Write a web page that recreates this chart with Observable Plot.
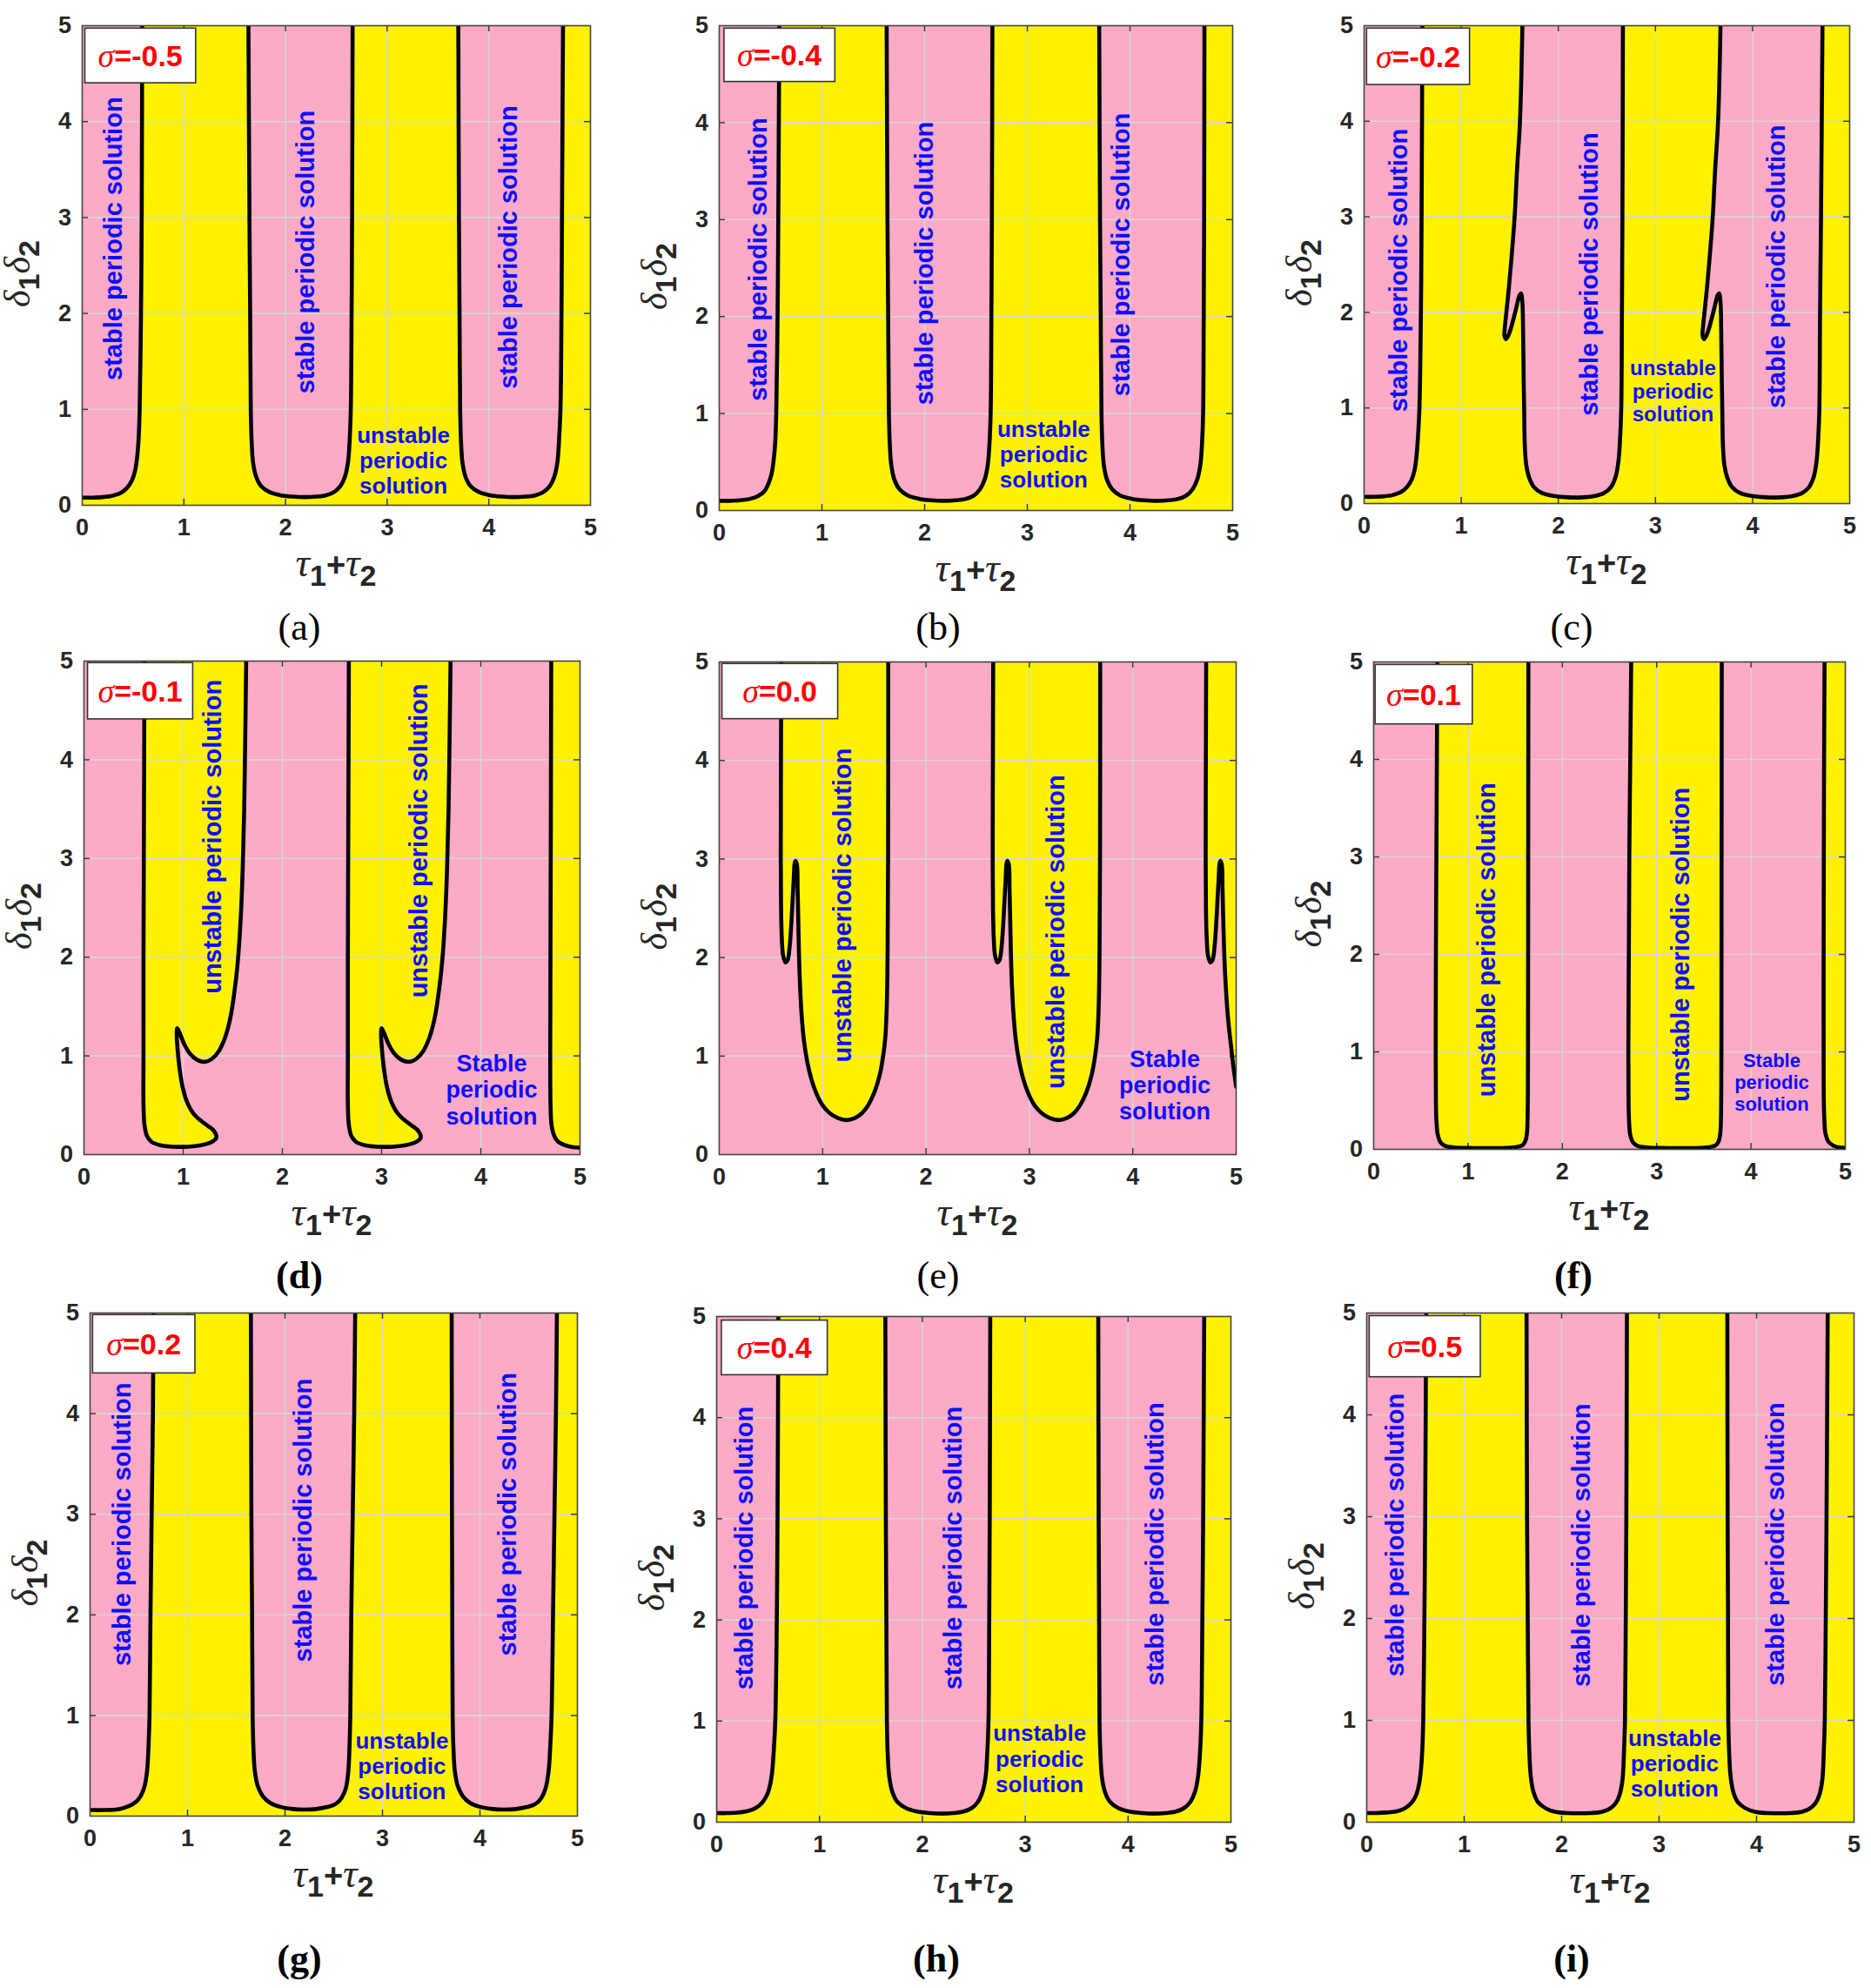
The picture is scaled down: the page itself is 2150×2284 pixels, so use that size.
<!DOCTYPE html>
<html><head><meta charset="utf-8">
<script src="https://cdn.jsdelivr.net/npm/d3@7"></script>
<script src="https://cdn.jsdelivr.net/npm/@observablehq/plot@0.6"></script>
<style>
html,body{margin:0;padding:0;background:#fff;}
body{width:2150px;height:2284px;position:relative;overflow:hidden;font-family:"Liberation Sans",Arial,sans-serif;}
.panel{position:absolute;}
.panel svg{max-width:none;background:transparent;overflow:visible;}
.cap{position:absolute;font-family:"Liberation Serif","Times New Roman",serif;font-size:44px;color:#000;transform:translate(-50%,-50%);white-space:nowrap;}
</style></head>
<body>
<script>
// ---------- data ----------
const xDomain = [0, 5];
const yDomain = [0, 5];
const tickValues = [0, 1, 2, 3, 4, 5];
const gridValues = [1, 2, 3, 4];
const sigmaValues = ["-0.5", "-0.4", "-0.2", "-0.1", "0.0", "0.1", "0.2", "0.4", "0.5"];
const panelLetters = ["(a)", "(b)", "(c)", "(d)", "(e)", "(f)", "(g)", "(h)", "(i)"];
const letterBold = [false, false, false, true, false, true, true, true, true];
// which state fills the background (the rest are the enclosed regions)
const backgroundState = ["unstable", "unstable", "unstable", "stable", "stable", "stable", "unstable", "unstable", "unstable"];

// boundary curves (tau1+tau2, delta1*delta2)
const aLeft = [[0,0.08],[0.1,0.08],[0.2,0.085],[0.3,0.1],[0.38,0.13],[0.44,0.18],[0.49,0.26],[0.52,0.36],[0.54,0.5],[0.555,0.7],[0.565,1],[0.578,2],[0.585,3],[0.59,5]];
const aMid = [[1.635,5],[1.645,3],[1.652,2],[1.658,1],[1.665,0.7],[1.68,0.45],[1.71,0.3],[1.76,0.2],[1.84,0.14],[1.95,0.105],[2.07,0.09],[2.19,0.085],[2.3,0.09],[2.4,0.105],[2.48,0.14],[2.54,0.2],[2.585,0.3],[2.615,0.45],[2.632,0.7],[2.642,1],[2.65,2],[2.655,3],[2.66,5]];
const aRight = [[3.70,5],[3.706,3],[3.712,2],[3.718,1],[3.725,0.7],[3.74,0.45],[3.77,0.3],[3.82,0.2],[3.90,0.14],[4.01,0.105],[4.13,0.09],[4.25,0.085],[4.36,0.09],[4.46,0.105],[4.54,0.14],[4.6,0.2],[4.645,0.3],[4.675,0.45],[4.692,0.7],[4.705,1],[4.715,2],[4.72,3],[4.73,5]];

const bLeft = [[0,0.1],[0.1,0.1],[0.2,0.105],[0.3,0.12],[0.38,0.15],[0.44,0.2],[0.48,0.28],[0.51,0.38],[0.53,0.52],[0.545,0.7],[0.555,1],[0.568,2],[0.575,3],[0.585,5]];
const bMid = [[1.63,5],[1.638,3],[1.645,2],[1.652,1],[1.66,0.7],[1.675,0.47],[1.705,0.32],[1.755,0.22],[1.835,0.155],[1.95,0.12],[2.07,0.105],[2.19,0.1],[2.3,0.105],[2.4,0.12],[2.48,0.155],[2.54,0.22],[2.585,0.32],[2.615,0.47],[2.632,0.7],[2.643,1],[2.65,2],[2.655,3],[2.66,5]];
const bRight = [[3.70,5],[3.708,3],[3.715,2],[3.722,1],[3.73,0.7],[3.745,0.47],[3.775,0.32],[3.825,0.22],[3.905,0.155],[4.02,0.12],[4.14,0.105],[4.26,0.1],[4.37,0.105],[4.47,0.12],[4.55,0.155],[4.61,0.22],[4.655,0.32],[4.685,0.47],[4.702,0.7],[4.712,1],[4.718,2],[4.722,3],[4.725,5]];

const cLeft = [[0,0.07],[0.1,0.07],[0.2,0.075],[0.3,0.09],[0.38,0.12],[0.44,0.17],[0.49,0.25],[0.52,0.35],[0.54,0.5],[0.555,0.7],[0.57,1],[0.585,2],[0.592,3],[0.6,5]];
const cMid = [[1.63,5],[1.605,4],[1.575,3.5],[1.55,3],[1.52,2.6],[1.49,2.25],[1.465,2.0],[1.45,1.85],[1.445,1.76],[1.46,1.72],[1.49,1.77],[1.53,1.9],[1.57,2.06],[1.6,2.18],[1.615,2.2],[1.63,2.1],[1.637,1.8],[1.643,1.3],[1.648,1],[1.655,0.6],[1.67,0.4],[1.7,0.27],[1.75,0.17],[1.83,0.11],[1.95,0.08],[2.1,0.065],[2.25,0.065],[2.38,0.08],[2.47,0.11],[2.54,0.17],[2.59,0.28],[2.62,0.45],[2.637,0.7],[2.648,1],[2.655,2],[2.66,3],[2.665,5]];
const cRight = [[3.67,5],[3.645,4],[3.615,3.5],[3.59,3],[3.56,2.6],[3.53,2.25],[3.505,2.0],[3.49,1.85],[3.485,1.76],[3.5,1.72],[3.53,1.77],[3.57,1.9],[3.61,2.06],[3.64,2.18],[3.655,2.2],[3.67,2.1],[3.677,1.8],[3.683,1.3],[3.688,1],[3.695,0.6],[3.71,0.4],[3.74,0.27],[3.79,0.17],[3.87,0.11],[3.99,0.08],[4.14,0.065],[4.29,0.065],[4.42,0.08],[4.51,0.11],[4.58,0.17],[4.63,0.28],[4.66,0.45],[4.677,0.7],[4.688,1],[4.695,2],[4.705,3],[4.72,5]];

const dLeft = [[0.61,5],[0.605,3.5],[0.6,2],[0.6,1],[0.6,0.5],[0.61,0.3],[0.635,0.19],[0.68,0.13],[0.77,0.095],[0.9,0.08],[1.05,0.08],[1.18,0.095],[1.27,0.12],[1.32,0.15],[1.335,0.18],[1.31,0.24],[1.25,0.29],[1.17,0.35],[1.1,0.42],[1.04,0.53],[0.995,0.68],[0.965,0.86],[0.945,1.05],[0.935,1.2],[0.94,1.28],[0.965,1.23],[1.01,1.12],[1.07,1.02],[1.14,0.96],[1.22,0.94],[1.29,0.97],[1.36,1.05],[1.42,1.18],[1.47,1.36],[1.51,1.6],[1.55,1.95],[1.58,2.4],[1.6,2.9],[1.615,3.5],[1.625,4.2],[1.635,5]];
const dMid = [[2.67,5],[2.665,3.5],[2.66,2],[2.66,1],[2.66,0.5],[2.67,0.3],[2.695,0.19],[2.74,0.13],[2.83,0.095],[2.96,0.08],[3.11,0.08],[3.24,0.095],[3.33,0.12],[3.38,0.15],[3.395,0.18],[3.37,0.24],[3.31,0.29],[3.23,0.35],[3.16,0.42],[3.1,0.53],[3.055,0.68],[3.025,0.86],[3.005,1.05],[2.995,1.2],[3.0,1.28],[3.025,1.23],[3.07,1.12],[3.13,1.02],[3.2,0.96],[3.28,0.94],[3.35,0.97],[3.42,1.05],[3.48,1.18],[3.53,1.36],[3.57,1.6],[3.61,1.95],[3.64,2.4],[3.66,2.9],[3.675,3.5],[3.685,4.2],[3.695,5]];
const dRight = [[4.71,5],[4.705,3],[4.70,1],[4.703,0.5],[4.713,0.3],[4.74,0.19],[4.78,0.13],[4.85,0.095],[4.93,0.075],[5,0.07]];

const eLeft = [[0.6,5],[0.597,4],[0.595,3],[0.598,2.5],[0.605,2.2],[0.618,2.02],[0.64,1.95],[0.66,1.97],[0.68,2.1],[0.7,2.4],[0.718,2.75],[0.735,2.98],[0.75,2.95],[0.758,2.7],[0.765,2.35],[0.772,2.0],[0.782,1.7],[0.798,1.4],[0.82,1.15],[0.85,0.95],[0.89,0.77],[0.94,0.62],[1.0,0.5],[1.07,0.42],[1.15,0.37],[1.23,0.35],[1.31,0.37],[1.38,0.42],[1.44,0.5],[1.5,0.63],[1.55,0.8],[1.585,1.0],[1.607,1.2],[1.62,1.5],[1.628,2.0],[1.633,3],[1.635,5]];
const eMid = [[2.65,5],[2.647,4],[2.645,3],[2.648,2.5],[2.655,2.2],[2.668,2.02],[2.69,1.95],[2.71,1.97],[2.73,2.1],[2.75,2.4],[2.768,2.75],[2.785,2.98],[2.8,2.95],[2.808,2.7],[2.815,2.35],[2.822,2.0],[2.832,1.7],[2.848,1.4],[2.87,1.15],[2.9,0.95],[2.94,0.77],[2.99,0.62],[3.05,0.5],[3.12,0.42],[3.2,0.37],[3.28,0.35],[3.36,0.37],[3.43,0.42],[3.49,0.5],[3.55,0.63],[3.6,0.8],[3.635,1.0],[3.657,1.2],[3.67,1.5],[3.678,2.0],[3.683,3],[3.685,5]];
const eRight = [[4.71,5],[4.707,4],[4.705,3],[4.708,2.5],[4.715,2.2],[4.728,2.02],[4.75,1.95],[4.77,1.97],[4.79,2.1],[4.81,2.4],[4.828,2.75],[4.845,2.98],[4.86,2.95],[4.868,2.7],[4.876,2.35],[4.886,2.0],[4.9,1.7],[4.92,1.4],[4.945,1.15],[4.97,0.92],[5.0,0.69]];

const fLeft = [[0.675,5],[0.67,4],[0.665,3],[0.66,2],[0.658,1],[0.66,0.5],[0.665,0.3],[0.68,0.15],[0.71,0.07],[0.76,0.035],[0.85,0.02],[1.0,0.015],[1.2,0.012],[1.4,0.015],[1.52,0.025],[1.58,0.045],[1.61,0.09],[1.625,0.17],[1.632,0.35],[1.636,1],[1.638,3],[1.64,5]];
const fMid = [[2.73,5],[2.72,4],[2.71,3],[2.705,2],[2.7,1],[2.702,0.5],[2.707,0.3],[2.72,0.15],[2.75,0.07],[2.8,0.035],[2.9,0.02],[3.05,0.015],[3.25,0.012],[3.45,0.015],[3.57,0.025],[3.63,0.045],[3.66,0.09],[3.675,0.17],[3.682,0.35],[3.686,1],[3.688,3],[3.69,5]];
const fRight = [[4.78,5],[4.775,4],[4.772,3],[4.77,2],[4.77,1],[4.772,0.5],[4.778,0.3],[4.79,0.16],[4.82,0.08],[4.87,0.04],[4.93,0.02],[5,0.015]];

const gLeft = [[0,0.06],[0.15,0.06],[0.3,0.07],[0.4,0.1],[0.47,0.14],[0.52,0.2],[0.56,0.3],[0.585,0.45],[0.6,0.7],[0.61,1],[0.62,2],[0.632,3],[0.645,4],[0.65,5]];
const gMid = [[1.65,5],[1.655,3],[1.662,2],[1.668,1],[1.675,0.7],[1.69,0.45],[1.72,0.3],[1.77,0.2],[1.85,0.13],[1.96,0.09],[2.08,0.07],[2.2,0.065],[2.32,0.07],[2.43,0.09],[2.52,0.12],[2.58,0.18],[2.625,0.28],[2.65,0.45],[2.662,0.7],[2.67,1],[2.68,2],[2.695,3],[2.71,4],[2.72,5]];
const gRight = [[3.71,5],[3.713,3],[3.716,2],[3.72,1],[3.727,0.7],[3.742,0.45],[3.772,0.3],[3.822,0.2],[3.9,0.13],[4.01,0.09],[4.13,0.07],[4.25,0.065],[4.37,0.07],[4.48,0.09],[4.57,0.12],[4.63,0.18],[4.675,0.28],[4.705,0.45],[4.722,0.7],[4.735,1],[4.75,2],[4.765,3],[4.78,4],[4.79,5]];

const hLeft = [[0,0.09],[0.1,0.09],[0.2,0.095],[0.3,0.11],[0.38,0.14],[0.44,0.19],[0.49,0.27],[0.52,0.37],[0.54,0.5],[0.555,0.7],[0.57,1],[0.585,2],[0.592,3],[0.6,5]];
const hMid = [[1.64,5],[1.645,3],[1.65,2],[1.655,1],[1.662,0.7],[1.678,0.45],[1.708,0.3],[1.758,0.2],[1.84,0.14],[1.95,0.105],[2.07,0.09],[2.19,0.085],[2.3,0.09],[2.4,0.105],[2.48,0.14],[2.54,0.2],[2.585,0.3],[2.615,0.45],[2.632,0.7],[2.643,1],[2.65,2],[2.655,3],[2.66,5]];
const hRight = [[3.71,5],[3.714,3],[3.718,2],[3.722,1],[3.73,0.7],[3.745,0.45],[3.775,0.3],[3.825,0.2],[3.905,0.14],[4.015,0.105],[4.135,0.09],[4.255,0.085],[4.365,0.09],[4.465,0.105],[4.545,0.14],[4.605,0.2],[4.65,0.3],[4.68,0.45],[4.7,0.7],[4.712,1],[4.722,2],[4.73,3],[4.74,5]];

const iLeft = [[0,0.09],[0.1,0.09],[0.2,0.095],[0.3,0.105],[0.38,0.13],[0.45,0.18],[0.5,0.25],[0.535,0.36],[0.555,0.5],[0.57,0.7],[0.58,1],[0.592,2],[0.6,3],[0.61,5]];
const iMid = [[1.64,5],[1.645,3],[1.652,2],[1.66,1],[1.668,0.7],[1.683,0.45],[1.71,0.3],[1.755,0.2],[1.83,0.14],[1.94,0.1],[2.06,0.09],[2.18,0.087],[2.3,0.09],[2.41,0.1],[2.49,0.13],[2.55,0.18],[2.595,0.27],[2.625,0.42],[2.64,0.7],[2.65,1],[2.658,2],[2.664,3],[2.67,5]];
const iRight = [[3.70,5],[3.703,3],[3.707,2],[3.71,1],[3.718,0.7],[3.733,0.45],[3.76,0.3],[3.805,0.2],[3.88,0.14],[3.99,0.1],[4.11,0.09],[4.23,0.087],[4.35,0.09],[4.46,0.1],[4.54,0.13],[4.6,0.18],[4.645,0.27],[4.675,0.42],[4.69,0.7],[4.7,1],[4.71,2],[4.718,3],[4.73,5]];

// sigma boxes [x1, x2, y1, y2]
const sigmaBoxes = [[0.03,1.12,4.40,4.97],[0.05,1.13,4.42,4.97],[0.03,1.09,4.38,4.97],[0.04,1.10,4.41,4.98],[0.03,1.15,4.42,4.98],[0.02,1.05,4.36,4.97],[0.03,1.08,4.40,4.98],[0.05,1.08,4.42,4.96],[0.03,1.17,4.37,4.97]];

// region annotations
const vLabelPos = [
  [[0.31,2.78],[2.2,2.64],[4.2,2.69]],
  [[0.38,2.59],[2.0,2.55],[3.92,2.64]],
  [[0.36,2.44],[2.32,2.4],[4.25,2.48]],
  [[1.30,3.22],[3.375,3.18]],
  [[1.2,2.53],[3.26,2.26]],
  [[1.2,2.15],[3.26,2.1]],
  [[0.33,2.9],[2.19,2.94],[4.29,3.0]],
  [[0.27,2.71],[2.3,2.71],[4.27,2.75]],
  [[0.30,2.82],[2.21,2.72],[4.2,2.73]]
];
const vLabelText = ["stable periodic solution","stable periodic solution","stable periodic solution","unstable periodic solution","unstable periodic solution","unstable periodic solution","stable periodic solution","stable periodic solution","stable periodic solution"];
const hLabelPos = [[3.16,0.47],[3.16,0.58],[3.18,1.18],[4.11,0.66],[4.31,0.71],[4.22,0.69],[3.2,0.5],[3.14,0.63],[3.16,0.58]];
const hLabelText = ["unstable\nperiodic\nsolution","unstable\nperiodic\nsolution","unstable\nperiodic\nsolution","Stable\nperiodic\nsolution","Stable\nperiodic\nsolution","Stable\nperiodic\nsolution","unstable\nperiodic\nsolution","unstable\nperiodic\nsolution","unstable\nperiodic\nsolution"];

const panelCurves = [
  {curves:[aLeft,aMid,aRight], closeTo:["topLeft",null,null]},
  {curves:[bLeft,bMid,bRight], closeTo:["topLeft",null,null]},
  {curves:[cLeft,cMid,cRight], closeTo:["topLeft",null,null]},
  {curves:[dLeft,dMid,dRight], closeTo:[null,null,"topRight"]},
  {curves:[eLeft,eMid,eRight], closeTo:[null,null,"topRight"]},
  {curves:[fLeft,fMid,fRight], closeTo:[null,null,"topRight"]},
  {curves:[gLeft,gMid,gRight], closeTo:["topLeft",null,null]},
  {curves:[hLeft,hMid,hRight], closeTo:["topLeft",null,null]},
  {curves:[iLeft,iMid,iRight], closeTo:["topLeft",null,null]}
];

// ---------- layout & style ----------
const PINK = "#fcaac5", YELLOW = "#fff200", BLUE = "#0d0dff", RED = "#ff0000", INK = "#262626";
const stateColor = {stable: PINK, unstable: YELLOW};
const plotBoxes = [
  {l:94,r:678,t:29,b:580},{l:826,r:1416,t:29,b:586},{l:1567,r:2125,t:29,b:578},
  {l:96,r:666,t:759,b:1326},{l:826,r:1420,t:760,b:1326},{l:1578,r:2120,t:760,b:1320},
  {l:103,r:663,t:1508,b:2086},{l:823,r:1414,t:1512,b:2093},{l:1570,r:2130,t:1508,b:2093}
];
const captionPos = [[344,720],[1078,720],[1806,720],[344,1465],[1078,1465],[1808,1465],[344,2250],[1076,2250],[1806,2250]];
const hLabelSize = [26,26,24,27,27,22,26,26,26];
const TICK_FONT = 27, TICK_LEN = 7;

const ML = 115, MR = 40, MT = 12, MB = 112;

// polygon for the filled region; closed outside the frame (clipped) so the fill follows the curve exactly
function polygonOf(pts, closeTo) {
  const first = pts[0], last = pts[pts.length - 1];
  const over = yDomain[1] + 1;
  if (closeTo === "topLeft") return [...pts, [last[0], over], [xDomain[0] - 1, over], [xDomain[0] - 1, first[1]]];
  if (closeTo === "topRight") return [...pts, [xDomain[1] + 1, last[1]], [xDomain[1] + 1, over], [first[0], over]];
  return pts;
}

panelCurves.forEach((pc, i) => {
  const box = plotBoxes[i];
  const pw = box.r - box.l, ph = box.b - box.t;
  const bg = stateColor[backgroundState[i]];
  const fg = backgroundState[i] === "stable" ? YELLOW : PINK;
  const X = d => d[0], Y = d => d[1];
  const tickStyle = {stroke: "#3a3a3a", strokeWidth: 1.5};
  const marks = [
    Plot.frame({fill: bg, stroke: "none"}),
    ...pc.curves.map((c, k) => Plot.line(polygonOf(c, pc.closeTo[k]), {x: X, y: Y, fill: fg, stroke: "none", curve: "catmull-rom", clip: true})),
    Plot.ruleX(gridValues, {stroke: "#d6d6d6", strokeWidth: 1.6}),
    Plot.ruleY(gridValues, {stroke: "#d6d6d6", strokeWidth: 1.6}),
    // inward ticks on all four sides
    Plot.ruleX(gridValues, {...tickStyle, insetTop: ph - TICK_LEN}),
    Plot.ruleX(gridValues, {...tickStyle, insetBottom: ph - TICK_LEN}),
    Plot.ruleY(gridValues, {...tickStyle, insetRight: pw - TICK_LEN}),
    Plot.ruleY(gridValues, {...tickStyle, insetLeft: pw - TICK_LEN}),
    Plot.text(vLabelPos[i], {x: X, y: Y, text: () => vLabelText[i], rotate: -90, fontSize: 29, fontWeight: "bold", fill: BLUE, fontFamily: "Liberation Sans"}),
    Plot.text([hLabelPos[i]], {x: X, y: Y, text: () => hLabelText[i], lineHeight: 1.12, fontSize: hLabelSize[i], fontWeight: "bold", fill: BLUE, fontFamily: "Liberation Sans"}),
    ...pc.curves.map(c => Plot.line(c, {x: X, y: Y, stroke: "#000", strokeWidth: 4.6, curve: "catmull-rom", clip: true})),
    Plot.rect([sigmaBoxes[i]], {x1: d => d[0], x2: d => d[1], y1: d => d[2], y2: d => d[3], fill: "#fff", stroke: "#333", strokeWidth: 1.6}),
    Plot.frame({stroke: "#444", strokeWidth: 1.6}),
    // tick labels drawn as text marks so their font can be controlled
    Plot.text(tickValues, {x: d => d, frameAnchor: "bottom", lineAnchor: "middle", dy: 26, text: d => String(d), fontSize: TICK_FONT, fontWeight: "bold", fill: INK, fontFamily: "Liberation Sans"}),
    Plot.text(tickValues, {y: d => d, frameAnchor: "left", textAnchor: "middle", dx: -20, text: d => String(d), fontSize: TICK_FONT, fontWeight: "bold", fill: INK, fontFamily: "Liberation Sans"})
  ];
  const svg = Plot.plot({
    width: pw + ML + MR, height: ph + MT + MB,
    marginLeft: ML, marginRight: MR, marginTop: MT, marginBottom: MB,
    style: {fontFamily: "Liberation Sans, Arial, sans-serif", fontSize: "20px", fontWeight: "bold", color: INK, background: "transparent", overflow: "visible"},
    x: {domain: xDomain, axis: null},
    y: {domain: yDomain, axis: null},
    marks
  });
  const sx = svg.scale("x"), sy = svg.scale("y");
  const S = d3.select(svg);
  // sigma text
  const sb = sigmaBoxes[i];
  const st = S.append("text")
    .attr("x", sx.apply((sb[0] + sb[1]) / 2)).attr("y", sy.apply((sb[2] + sb[3]) / 2))
    .attr("text-anchor", "middle").attr("dominant-baseline", "central")
    .attr("fill", RED).attr("font-size", 34);
  st.append("tspan").attr("font-family", "Liberation Serif, serif").attr("font-style", "italic").attr("font-weight", "normal").attr("font-size", 38).text("σ");
  st.append("tspan").attr("font-family", "Liberation Sans, Arial, sans-serif").attr("font-weight", "bold").text("=" + sigmaValues[i]);
  // x axis label
  const cxp = (sx.apply(xDomain[0]) + sx.apply(xDomain[1])) / 2;
  const xl = S.append("text").attr("x", cxp).attr("y", MT + ph + 82).attr("text-anchor", "middle").attr("fill", INK);
  xl.append("tspan").attr("font-family", "Liberation Serif, serif").attr("font-style", "italic").attr("font-weight", "normal").attr("font-size", 46).text("τ");
  xl.append("tspan").attr("font-size", 34).attr("font-weight", "bold").attr("dy", 11).text("1");
  xl.append("tspan").attr("font-size", 38).attr("font-weight", "bold").attr("dy", -11).text("+");
  xl.append("tspan").attr("font-family", "Liberation Serif, serif").attr("font-style", "italic").attr("font-weight", "normal").attr("font-size", 46).text("τ");
  xl.append("tspan").attr("font-size", 34).attr("font-weight", "bold").attr("dy", 11).text("2");
  // y axis label
  const cyp = (sy.apply(yDomain[0]) + sy.apply(yDomain[1])) / 2 + 10;
  const yl = S.append("text").attr("transform", `translate(${ML - 60},${cyp}) rotate(-90)`).attr("text-anchor", "middle").attr("fill", INK);
  yl.append("tspan").attr("font-family", "Liberation Serif, serif").attr("font-style", "italic").attr("font-weight", "normal").attr("font-size", 42).text("δ");
  yl.append("tspan").attr("font-size", 34).attr("font-weight", "bold").attr("dy", 11).text("1");
  yl.append("tspan").attr("font-family", "Liberation Serif, serif").attr("font-style", "italic").attr("font-weight", "normal").attr("font-size", 42).attr("dy", -11).text("δ");
  yl.append("tspan").attr("font-size", 34).attr("font-weight", "bold").attr("dy", 11).text("2");

  const div = document.createElement("div");
  div.className = "panel";
  div.style.left = (box.l - ML) + "px";
  div.style.top = (box.t - MT) + "px";
  div.appendChild(svg);
  document.body.appendChild(div);

  const cap = document.createElement("div");
  cap.className = "cap";
  cap.style.left = captionPos[i][0] + "px";
  cap.style.top = captionPos[i][1] + "px";
  cap.style.fontWeight = letterBold[i] ? "bold" : "normal";
  cap.textContent = panelLetters[i];
  document.body.appendChild(cap);
});
</script>
</body></html>
